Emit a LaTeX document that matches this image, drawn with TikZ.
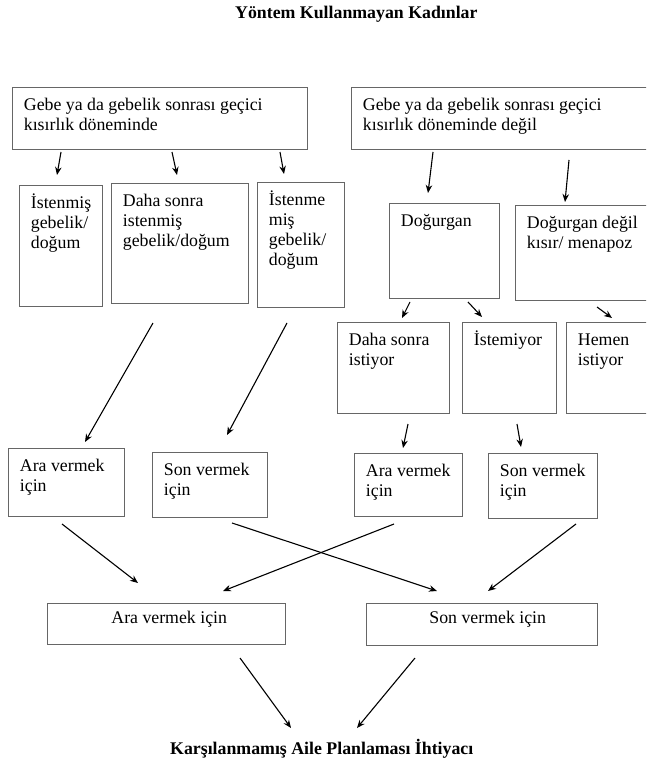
\documentclass[tikz,border=0pt]{standalone}
\usepackage{fontspec}
\setmainfont{Liberation Serif}
\usetikzlibrary{arrows.meta}
\newcommand{\bt}[3]{\parbox[t][#2pt][t]{\dimexpr#1pt-23pt\relax}{\raggedright\rule{0pt}{23pt}#3}}
\newcommand{\gt}[4]{\parbox[t][#2pt][t]{#1pt}{\raggedright\rule{0pt}{20pt}\hspace*{#3pt}#4}}
\definecolor{boxgray}{gray}{0.4}
\tikzset{
  box/.style={draw=boxgray, line width=0.8pt, anchor=north west, inner xsep=11.5pt, inner ysep=0pt,
    font=\fontsize{17.8}{20}\selectfont},
  gbox/.style={box, inner xsep=0pt},
  ttl/.style={inner sep=0pt, font=\fontsize{17.8}{20}\selectfont\bfseries},
  arr/.style={draw=black, line width=1.1pt, -{Stealth[length=8pt,width=6.5pt]}}
}
\begin{document}
\begin{tikzpicture}[x=1pt, y=-1pt]
\clip (0,0) rectangle (646,762);
\fill[white] (0,0) rectangle (646,762);

\node[ttl, anchor=base west] (T1) at (235,19) {Yöntem Kullanmayan Kadınlar};
\node[ttl, anchor=base west] (T2) at (170,754) {Karşılanmamış Aile Planlaması İhtiyacı};

% row 1
\node[box] (A) at (12,87) {\bt{295}{62}{Gebe ya da gebelik sonrası geçici\\kısırlık döneminde}};
\node[box] (B) at (351,87) {\bt{310}{62}{Gebe ya da gebelik sonrası geçici\\kısırlık döneminde değil}};

% row 2 left
\node[box] (C1) at (19,185) {\bt{83}{121}{İstenmiş\\gebelik/\\doğum}};
\node[box] (C2) at (111,183) {\bt{137}{120}{Daha sonra\\istenmiş\\gebelik/doğum}};
\node[box] (C3) at (257,182) {\bt{87}{125}{İstenme\\miş\\gebelik/\\doğum}};

% row 2 right
\node[box] (D1) at (389,203) {\bt{110}{95}{Doğurgan}};
\node[box] (D2) at (515,205) {\bt{146}{95}{Doğurgan değil\\kısır/ menapoz}};

% row 3 right
\node[box] (E1) at (337,322) {\bt{112}{91}{Daha sonra\\istiyor}};
\node[box] (E2) at (462,322) {\bt{94}{91}{İstemiyor}};
\node[box] (E3) at (566,322) {\bt{95}{91}{Hemen\\istiyor}};

% row 4
\node[box] (F1) at (8,448) {\bt{116}{68}{Ara vermek\\için}};
\node[box] (F2) at (152,452) {\bt{115}{65}{Son vermek\\için}};
\node[box] (F3) at (354,453) {\bt{108}{63}{Ara vermek\\için}};
\node[box] (F4) at (488,453) {\bt{109}{65}{Son vermek\\için}};

% row 5
\node[gbox] (G1) at (47,603) {\gt{238}{41}{64}{Ara vermek için}};
\node[gbox] (G2) at (366,603) {\gt{231}{42}{63}{Son vermek için}};

% arrows
\draw[arr] ([shift={(49,65)}]A.north west) -- ([shift={(38,-10)}]C1.north west);
\draw[arr] ([shift={(160,65)}]A.north west) -- ([shift={(66,-8)}]C2.north west);
\draw[arr] ([shift={(268,65)}]A.north west) -- ([shift={(27,-8)}]C3.north west);
\draw[arr] ([shift={(82,65)}]B.north west) -- ([shift={(39,-10)}]D1.north west);
\draw[arr] ([shift={(218,73)}]B.north west) -- ([shift={(50,-3)}]D2.north west);
\draw[arr] ([shift={(21,99)}]D1.north west) -- ([shift={(65,-4)}]E1.north west);
\draw[arr] ([shift={(79,99)}]D1.north west) -- ([shift={(20,-5)}]E2.north west);
\draw[arr] ([shift={(82,102)}]D2.north west) -- ([shift={(46,-4)}]E3.north west);
\draw[arr] ([shift={(42,140)}]C2.north west) -- ([shift={(77,-6)}]F1.north west);
\draw[arr] ([shift={(30,141)}]C3.north west) -- ([shift={(75,-17)}]F2.north west);
\draw[arr] ([shift={(71,102)}]E1.north west) -- ([shift={(49,-5)}]F3.north west);
\draw[arr] ([shift={(55,102)}]E2.north west) -- ([shift={(33,-6)}]F4.north west);
\draw[arr] ([shift={(54,76)}]F1.north west) -- ([shift={(91,-20)}]G1.north west);
\draw[arr] ([shift={(80,71)}]F2.north west) -- ([shift={(71,-12)}]G2.north west);
\draw[arr] ([shift={(40,71)}]F3.north west) -- ([shift={(176,-12)}]G1.north west);
\draw[arr] ([shift={(88,71)}]F4.north west) -- ([shift={(122,-12)}]G2.north west);
\draw[arr] ([shift={(193,55)}]G1.north west) -- ([shift={(121,-26)}]T2.base west);
\draw[arr] ([shift={(49,55)}]G2.north west) -- ([shift={(187,-26)}]T2.base west);
\end{tikzpicture}
\end{document}
